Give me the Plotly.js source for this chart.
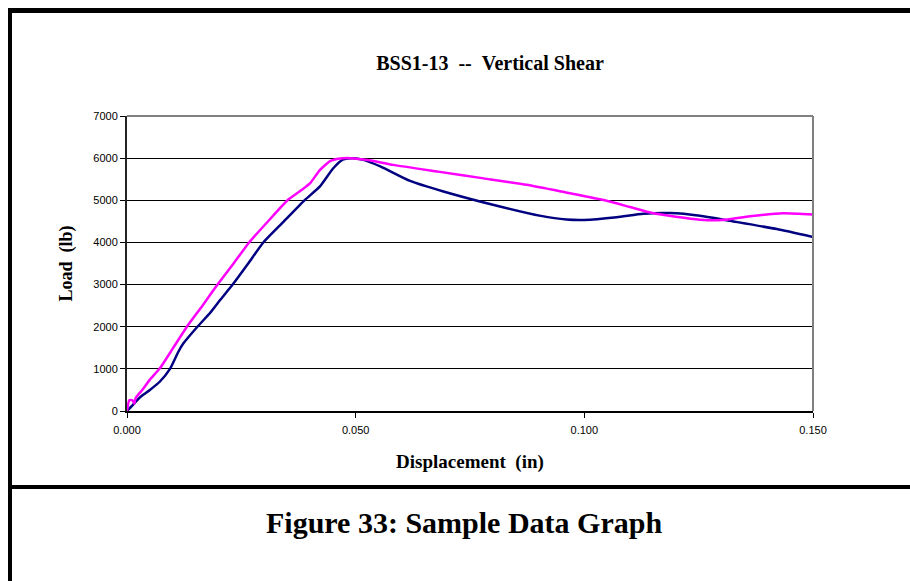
<!DOCTYPE html>
<html>
<head>
<meta charset="utf-8">
<script src="https://cdn.plot.ly/plotly-3.0.1.min.js"></script>
<style>
  html, body { margin: 0; padding: 0; background: #ffffff; }
  #chart { width: 910px; height: 581px; }
</style>
</head>
<body>
<div id="chart"></div>
<script>
// Series 1 (magenta)
const dispPink = [0, 0.0005, 0.0012, 0.0016, 0.0019, 0.0035, 0.0050, 0.0071, 0.0100, 0.0131, 0.0165, 0.0198, 0.0233, 0.0267, 0.0310, 0.0351, 0.0380, 0.0400, 0.0422, 0.0444, 0.0466, 0.0488, 0.0530, 0.0582, 0.0680, 0.0780, 0.0874, 0.0960, 0.1045, 0.1100, 0.1149, 0.1200, 0.1253, 0.1300, 0.1362, 0.1435, 0.1500];
const loadPink = [0, 255, 255, 178, 310, 520, 745, 1000, 1480, 2000, 2500, 3000, 3500, 4000, 4520, 5000, 5230, 5400, 5720, 5930, 5990, 6000, 5950, 5840, 5680, 5520, 5367, 5185, 5000, 4840, 4697, 4610, 4540, 4530, 4620, 4690, 4660];

// Series 2 (navy)
const dispNavy = [0, 0.0016, 0.0025, 0.0036, 0.0050, 0.0072, 0.0094, 0.0112, 0.0123, 0.0154, 0.0182, 0.0205, 0.0231, 0.0265, 0.0298, 0.0343, 0.0388, 0.0422, 0.0451, 0.0473, 0.0495, 0.0517, 0.0555, 0.0619, 0.0692, 0.0800, 0.0905, 0.0961, 0.1000, 0.1071, 0.1129, 0.1187, 0.1253, 0.1326, 0.1421, 0.1500];
const loadNavy = [0, 180, 290, 390, 500, 700, 1000, 1400, 1600, 2000, 2330, 2650, 3000, 3500, 4000, 4500, 5000, 5330, 5760, 5970, 6000, 5960, 5800, 5460, 5210, 4895, 4630, 4545, 4535, 4600, 4680, 4696, 4633, 4498, 4317, 4128];

const xTicks = [0, 0.05, 0.10, 0.15];
const xTickText = ["0.000", "0.050", "0.100", "0.150"];
const yTicks = [0, 1000, 2000, 3000, 4000, 5000, 6000, 7000];

const chartTitle = "BSS1-13\u00A0\u00A0--\u00A0\u00A0Vertical Shear";
const xTitle = "Displacement\u00A0\u00A0(in)";
const yTitle = "Load\u00A0\u00A0(lb)";
const caption = "Figure 33: Sample Data Graph";

// layout helpers: pixel -> paper
const W = 910, H = 581, L = 127, R = 97, T = 116, B = 170;
const pw = W - L - R, ph = H - T - B;
const px = x => (x - L) / pw;
const py = y => (H - B - y) / ph;

const serif = "'Liberation Serif', 'Times New Roman', serif";
const sans = "'Liberation Sans', Arial, sans-serif";

const traces = [
  { x: dispNavy, y: loadNavy, type: 'scatter', mode: 'lines',
    line: { color: '#000080', width: 2.5, shape: 'spline', smoothing: 0.5 }, showlegend: false, hoverinfo: 'skip' },
  { x: dispPink, y: loadPink, type: 'scatter', mode: 'lines',
    line: { color: '#FF00FF', width: 2.5, shape: 'spline', smoothing: 0.5 }, showlegend: false, hoverinfo: 'skip' }
];

const layout = {
  width: W, height: H,
  margin: { l: L, r: R, t: T, b: B, pad: 0 },
  paper_bgcolor: '#ffffff', plot_bgcolor: '#ffffff',
  showlegend: false,
  title: { text: chartTitle, font: { family: serif, size: 20, color: '#000', weight: 'bold' },
           x: px(490), xref: 'paper', xanchor: 'center', y: 1 - 63 / H, yref: 'container', yanchor: 'middle' },
  xaxis: {
    range: [0, 0.15], tickvals: xTicks, ticktext: xTickText,
    ticks: 'outside', ticklen: 5, tickwidth: 1, tickcolor: '#000', ticklabelstandoff: 3,
    showline: true, linecolor: '#000', linewidth: 1.5, showgrid: false, zeroline: false,
    tickfont: { family: sans, size: 11, color: '#000' },
    title: { text: xTitle, font: { family: serif, size: 19, color: '#000', weight: 'bold' }, standoff: 20 },
    automargin: false, fixedrange: true
  },
  yaxis: {
    range: [0, 7000], tickvals: yTicks, ticktext: yTicks.map(String),
    ticks: 'outside', ticklen: 5, tickwidth: 1, tickcolor: '#000',
    showline: true, linecolor: '#222', linewidth: 2, showgrid: true, gridcolor: '#000', gridwidth: 1, zeroline: false,
    tickfont: { family: sans, size: 11, color: '#000' },
    title: { text: yTitle, font: { family: serif, size: 18, color: '#000', weight: 'bold' }, standoff: 16 },
    automargin: false, fixedrange: true
  },
  shapes: [
    { type: 'line', xref: 'paper', yref: 'paper', x0: 0, x1: 1, y0: 1, y1: 1, line: { color: '#808080', width: 2 } },
    { type: 'line', xref: 'paper', yref: 'paper', x0: 1, x1: 1, y0: 0, y1: 1, line: { color: '#808080', width: 2 } },
    { type: 'line', xref: 'paper', yref: 'paper', x0: px(10), x1: px(10), y0: py(8), y1: py(590), line: { color: '#000', width: 4 } },
    { type: 'line', xref: 'paper', yref: 'paper', x0: px(8), x1: px(920), y0: py(10.5), y1: py(10.5), line: { color: '#000', width: 5 } },
    { type: 'line', xref: 'paper', yref: 'paper', x0: px(8), x1: px(920), y0: py(487), y1: py(487), line: { color: '#000', width: 4 } }
  ],
  annotations: [
    { text: caption, xref: 'paper', yref: 'paper', x: px(464), y: py(522), xanchor: 'center', yanchor: 'middle',
      showarrow: false, font: { family: serif, size: 30, color: '#000', weight: 'bold' } }
  ]
};

Plotly.newPlot('chart', traces, layout, { staticPlot: true, displayModeBar: false });
</script>
</body>
</html>
